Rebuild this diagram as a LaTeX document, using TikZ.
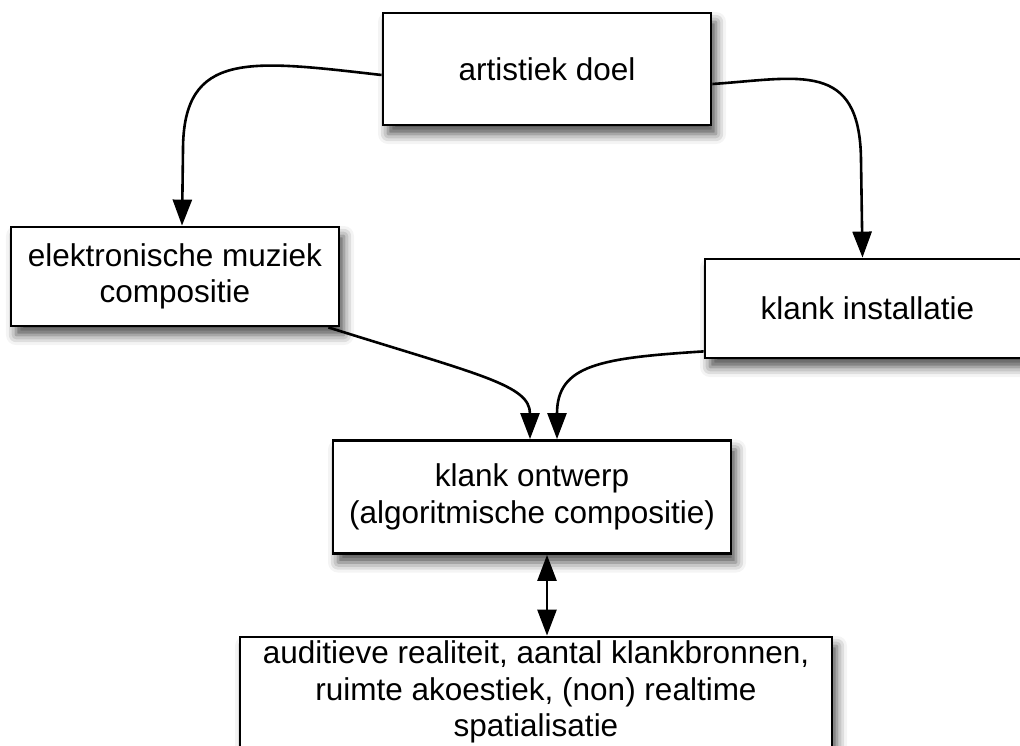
\documentclass[tikz,border=0pt]{standalone}
\usepackage{fontspec}
\setmainfont{Liberation Sans}
\usetikzlibrary{arrows.meta,shadows.blur,calc}
\tikzstyle{box}  =[rectangle, draw, fill=white, line width=2.8pt,
                   align=center, inner sep=0pt,
                   font=\fontsize{31.5}{36.5}\selectfont,
                   blur shadow={shadow xshift=5pt, shadow yshift=-9pt,
                   shadow blur radius=10pt, shadow opacity=70}]
\tikzstyle{edge} =[>={Triangle[length=26pt, width=19pt]},
                   line width=2.6pt]
\begin{document}
\begin{tikzpicture}[x=1pt, y=-1pt, edge]
    \useasboundingbox (0,0) rectangle (1020,745);
    % boxes
    \node (doel) [box, minimum width=328pt, minimum height=112pt] at (547,69) {artistiek doel};
    \node (emc)  [box, minimum width=328pt, minimum height=99pt] at (175,276.5) {elektronische muziek\\compositie};
    \node (inst) [box, minimum width=325pt, minimum height=99pt] at (867.5,308.5) {klank installatie};
    \node (ontw) [box, minimum width=398pt, minimum height=113pt] at (532,497) {klank ontwerp\\(algoritmische compositie)};
    \node (real) [box, minimum width=592pt, minimum height=110pt] at (536,692) {auditieve realiteit, aantal klankbronnen,\\ruimte akoestiek, (non) realtime\\spatialisatie};
    % connectors
    \coordinate (emcin)  at ($(emc.north)+(7pt,0)$);
    \coordinate (instin) at ($(inst.north)+(-5pt,0)$);
    \draw[->] ($(doel.west)+(0,-6pt)$) .. controls (250,60) and (183,50) .. (183,150) -- (emcin);
    \draw[->] ($(doel.east)+(0,-15pt)$) .. controls (800,78) and (860,60) .. (861,160) -- (instin);
    \draw[->] ($(emc.south east)+(-12pt,0)$) .. controls (480,375) and (530,385) .. ($(ontw.north)+(-2pt,0)$);
    \draw[->] ($(inst.south west)+(0,8pt)$) .. controls (600,358) and (557,365) .. ($(ontw.north)+(25pt,0)$);
    \draw[<->] ($(ontw.south)+(15pt,0)$) -- ($(real.north)+(11pt,0)$);
\end{tikzpicture}
\end{document}
